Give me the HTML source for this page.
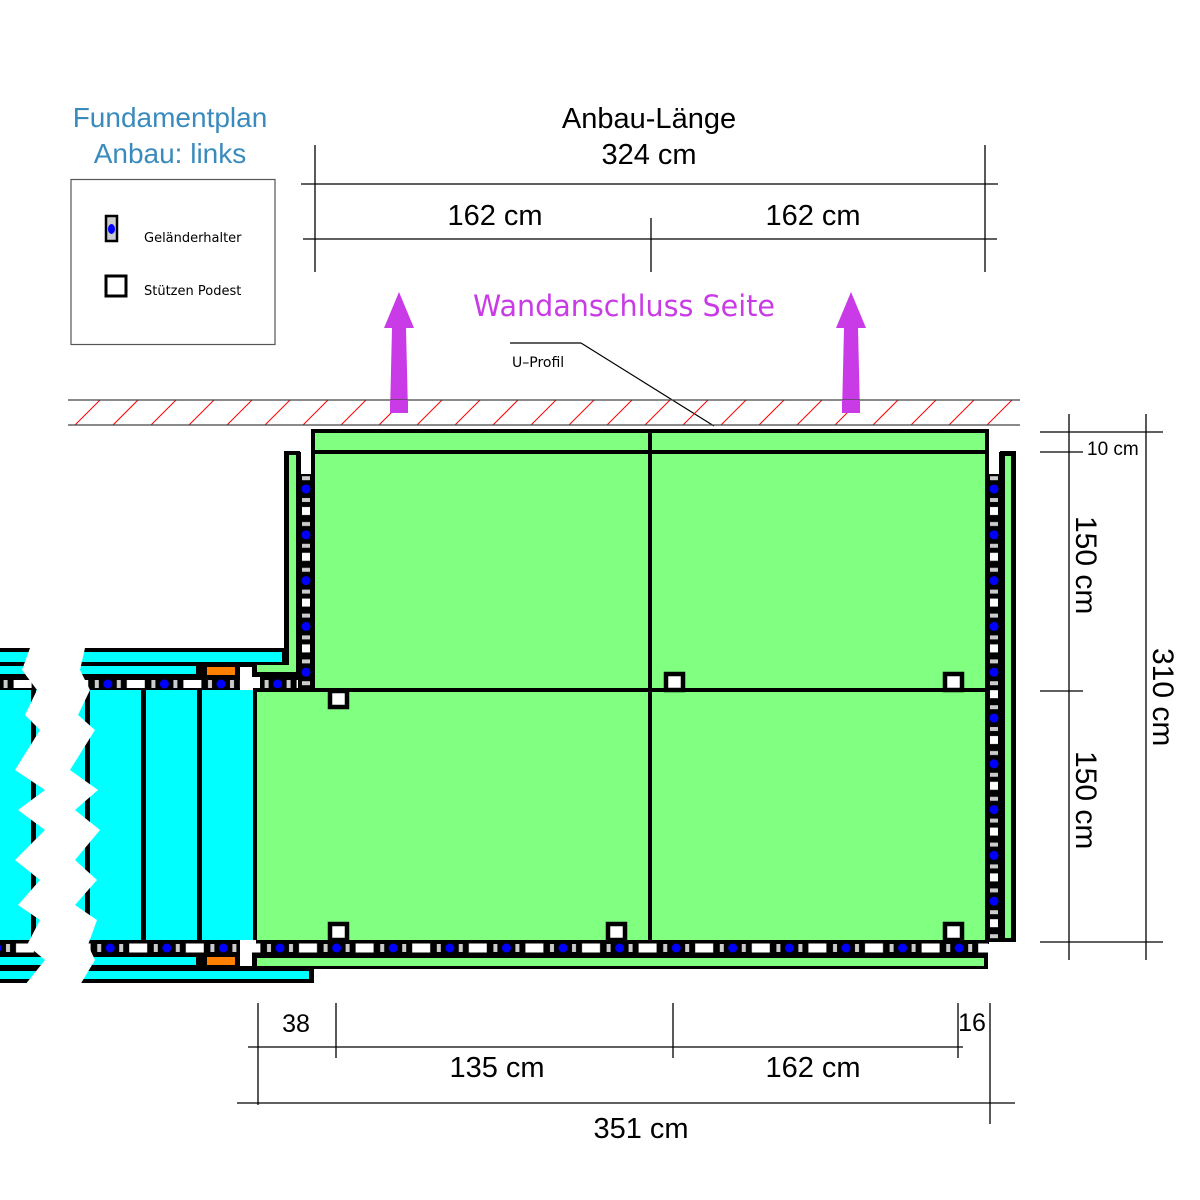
<!DOCTYPE html>
<html><head><meta charset="utf-8"><style>
html,body{margin:0;padding:0;background:#fff;}
svg{display:block;}
.d{font-family:"Liberation Sans Narrow","Liberation Sans",sans-serif;fill:#000;}
</style></head><body>
<svg width="1200" height="1200" viewBox="0 0 1200 1200" xmlns="http://www.w3.org/2000/svg">
<defs>
<pattern id="hr" x="280" y="940" width="56.6" height="16" patternUnits="userSpaceOnUse">
  <rect width="56.6" height="16" fill="#000"/>
  <circle cx="0" cy="8" r="4.5" fill="#00f"/><circle cx="56.6" cy="8" r="4.5" fill="#00f"/>
  <rect x="9" y="4" width="4" height="8" fill="#ccc"/>
  <rect x="43.6" y="4" width="4" height="8" fill="#ccc"/>
  <rect x="19" y="3.5" width="18" height="9" fill="#fff"/>
</pattern>
<pattern id="hr2" x="221" y="677" width="56.6" height="14" patternUnits="userSpaceOnUse">
  <rect width="56.6" height="14" fill="#000"/>
  <circle cx="0" cy="7" r="4.5" fill="#00f"/><circle cx="56.6" cy="7" r="4.5" fill="#00f"/>
  <rect x="9" y="3" width="4" height="8" fill="#ccc"/>
  <rect x="43.6" y="3" width="4" height="8" fill="#ccc"/>
  <rect x="19" y="3" width="18" height="8" fill="#fff"/>
</pattern>
<pattern id="vr" x="298" y="489" width="16" height="45.8" patternUnits="userSpaceOnUse">
  <rect width="16" height="45.8" fill="#000"/>
  <circle cx="8" cy="0" r="4.5" fill="#00f"/><circle cx="8" cy="45.8" r="4.5" fill="#00f"/>
  <rect x="4" y="9" width="8" height="4" fill="#ccc"/>
  <rect x="4" y="33" width="8" height="4" fill="#ccc"/>
  <rect x="4" y="18" width="8" height="8" fill="#fff"/>
</pattern>
<pattern id="vr2" x="986" y="489" width="16" height="45.8" patternUnits="userSpaceOnUse">
  <rect width="16" height="45.8" fill="#000"/>
  <circle cx="8" cy="0" r="4.5" fill="#00f"/><circle cx="8" cy="45.8" r="4.5" fill="#00f"/>
  <rect x="4" y="9" width="8" height="4" fill="#ccc"/>
  <rect x="4" y="33" width="8" height="4" fill="#ccc"/>
  <rect x="4" y="18" width="8" height="8" fill="#fff"/>
</pattern>
</defs>

<text x="170" y="127" text-anchor="middle" font-family="Liberation Sans, sans-serif" font-size="28" fill="#3a8bbd">Fundamentplan</text>
<text x="170" y="163" text-anchor="middle" font-family="Liberation Sans, sans-serif" font-size="28" fill="#3a8bbd">Anbau: links</text>

<rect x="71" y="179.5" width="204" height="165" fill="#fff" stroke="#555" stroke-width="1.2"/>
<rect x="106" y="216" width="11" height="25" fill="#ccc" stroke="#000" stroke-width="2.5"/>
<ellipse cx="111.5" cy="229" rx="3.5" ry="5" fill="#00f"/>
<text x="144" y="242" font-family="DejaVu Sans, sans-serif" font-size="13">Geländerhalter</text>
<rect x="106" y="276" width="20" height="20" fill="#fff" stroke="#000" stroke-width="3"/>
<text x="144" y="295" font-family="DejaVu Sans, sans-serif" font-size="13">Stützen Podest</text>

<g stroke="#000" stroke-width="1.3">
<line x1="315" y1="145" x2="315" y2="272"/>
<line x1="985" y1="145" x2="985" y2="272"/>
<line x1="651" y1="218" x2="651" y2="272"/>
<line x1="301" y1="184" x2="998" y2="184"/>
<line x1="303" y1="239" x2="997" y2="239"/>
</g>
<text class="d" x="649" y="128" text-anchor="middle" font-size="29">Anbau-Länge</text>
<text class="d" x="649" y="164" text-anchor="middle" font-size="29">324 cm</text>
<text class="d" x="495" y="225" text-anchor="middle" font-size="29">162 cm</text>
<text class="d" x="813" y="225" text-anchor="middle" font-size="29">162 cm</text>

<text x="624" y="316" text-anchor="middle" font-family="DejaVu Sans, sans-serif" font-size="29" fill="#c83be6" textLength="302" lengthAdjust="spacingAndGlyphs">Wandanschluss Seite</text>

<polygon points="390,413 408,413 406,328 414,328 399,292 384,328 392,328" fill="#c83be6"/>
<polygon points="842,413 860,413 858,328 866,328 851,292 836,328 844,328" fill="#c83be6"/>

<line x1="510" y1="343" x2="581" y2="343" stroke="#000" stroke-width="1.2"/>
<line x1="581" y1="343" x2="714" y2="426" stroke="#000" stroke-width="1.2"/>
<text x="512" y="367" font-family="DejaVu Sans, sans-serif" font-size="14">U–Profil</text>

<g stroke="#f00" stroke-width="1">
<line x1="75" y1="425" x2="100" y2="400"/><line x1="113" y1="425" x2="138" y2="400"/><line x1="151" y1="425" x2="176" y2="400"/><line x1="189" y1="425" x2="214" y2="400"/><line x1="227" y1="425" x2="252" y2="400"/><line x1="265" y1="425" x2="290" y2="400"/><line x1="303" y1="425" x2="328" y2="400"/><line x1="341" y1="425" x2="366" y2="400"/><line x1="379" y1="425" x2="404" y2="400"/><line x1="417" y1="425" x2="442" y2="400"/><line x1="455" y1="425" x2="480" y2="400"/><line x1="493" y1="425" x2="518" y2="400"/><line x1="531" y1="425" x2="556" y2="400"/><line x1="569" y1="425" x2="594" y2="400"/><line x1="607" y1="425" x2="632" y2="400"/><line x1="645" y1="425" x2="670" y2="400"/><line x1="683" y1="425" x2="708" y2="400"/><line x1="721" y1="425" x2="746" y2="400"/><line x1="759" y1="425" x2="784" y2="400"/><line x1="797" y1="425" x2="822" y2="400"/><line x1="835" y1="425" x2="860" y2="400"/><line x1="873" y1="425" x2="898" y2="400"/><line x1="911" y1="425" x2="936" y2="400"/><line x1="949" y1="425" x2="974" y2="400"/><line x1="987" y1="425" x2="1012" y2="400"/>
</g>
<line x1="68" y1="400" x2="1020" y2="400" stroke="#444" stroke-width="1.2"/>
<line x1="68" y1="425" x2="1020" y2="425" stroke="#444" stroke-width="1.2"/>
<polygon points="390,400 408,400 408,413 390,413" fill="#c83be6"/>
<polygon points="842,400 860,400 860,413 842,413" fill="#c83be6"/>

<rect x="0" y="648" width="300" height="29" fill="#000"/>
<rect x="284" y="451" width="16" height="226" fill="#000"/>
<rect x="289" y="455" width="7" height="213" fill="#80ff80"/>
<rect x="257" y="665" width="39" height="7" fill="#80ff80"/>
<rect x="0" y="652" width="282" height="10" fill="#0ff"/>
<rect x="0" y="666" width="196" height="8" fill="#0ff"/>
<rect x="207" y="667" width="28" height="8" fill="#ff8000"/>
<polygon points="240,667 252,667 252,677 260,677 260,690 240,690" fill="#fff"/>
<rect x="0" y="677" width="240" height="14" fill="url(#hr2)"/>
<rect x="260" y="677" width="40" height="14" fill="url(#hr2)"/>

<rect x="298" y="452" width="16" height="238" fill="url(#vr)"/>
<rect x="298" y="452" width="16" height="22" fill="#fff"/>
<rect x="298" y="452" width="3" height="238" fill="#000"/><rect x="311" y="452" width="3" height="238" fill="#000"/>
<rect x="986" y="452" width="16" height="490" fill="url(#vr2)"/>
<rect x="986" y="452" width="16" height="22" fill="#fff"/>
<rect x="986" y="452" width="3" height="490" fill="#000"/><rect x="999" y="452" width="3" height="490" fill="#000"/>
<rect x="1000" y="451" width="16" height="491" fill="#000"/>
<rect x="1005" y="456" width="6" height="482" fill="#80ff80"/>

<rect x="0" y="690" width="257" height="250" fill="#0ff"/>
<g fill="#000"><rect x="31" y="690" width="5" height="250"/><rect x="85" y="690" width="5" height="250"/><rect x="141" y="690" width="5" height="250"/><rect x="197" y="690" width="5" height="250"/></g>

<rect x="313" y="431" width="674" height="21" fill="#80ff80" stroke="#000" stroke-width="4"/>
<rect x="313" y="452" width="674" height="238" fill="#80ff80" stroke="#000" stroke-width="4"/>
<rect x="255" y="690" width="732" height="252" fill="#80ff80" stroke="#000" stroke-width="4"/>
<line x1="650" y1="431" x2="650" y2="942" stroke="#000" stroke-width="4"/>
<line x1="255" y1="690" x2="987" y2="690" stroke="#000" stroke-width="4"/>

<g fill="#fff" stroke="#000" stroke-width="4.5">
<rect x="330" y="691" width="17" height="16"/>
<rect x="666" y="674" width="17" height="16"/>
<rect x="945" y="674" width="17" height="16"/>
<rect x="330" y="924" width="17" height="16"/>
<rect x="608" y="924" width="17" height="16"/>
<rect x="945" y="924" width="17" height="16"/>
</g>

<rect x="0" y="940" width="988" height="16" fill="url(#hr)"/>
<rect x="0" y="955" width="988" height="14" fill="#000"/>
<rect x="0" y="968" width="314" height="15" fill="#000"/>
<rect x="257" y="958" width="727" height="8" fill="#80ff80"/>
<rect x="0" y="957" width="196" height="8" fill="#0ff"/>
<rect x="207" y="957" width="28" height="8" fill="#ff8000"/>
<polygon points="240,940 256,940 256,948 252,948 252,966 240,966" fill="#fff"/>
<rect x="0" y="971" width="309" height="8" fill="#0ff"/>

<polygon points="30,648 22,670 37,690 25,715 40,730 15,770 45,790 18,810 45,830 15,860 40,880 18,905 40,920 27,945 45,960 25,985 80,985 95,960 88,945 97,920 75,905 97,880 75,860 100,830 75,810 98,790 70,770 95,730 78,715 90,690 80,670 85,648" fill="#fff"/>

<g stroke="#000" stroke-width="1.3">
<line x1="1069" y1="414" x2="1069" y2="960"/>
<line x1="1146" y1="414" x2="1146" y2="960"/>
<line x1="1040" y1="432" x2="1163" y2="432"/>
<line x1="1040" y1="452" x2="1083" y2="452"/>
<line x1="1040" y1="691" x2="1083" y2="691"/>
<line x1="1040" y1="942" x2="1163" y2="942"/>
</g>
<text class="d" x="1087" y="455" font-size="19">10 cm</text>
<text class="d" font-size="30" transform="translate(1076,516) rotate(90)">150 cm</text>
<text class="d" font-size="30" transform="translate(1076,751) rotate(90)">150 cm</text>
<text class="d" font-size="30" transform="translate(1153,648) rotate(90)">310 cm</text>

<g stroke="#000" stroke-width="1.3">
<line x1="258" y1="1003" x2="258" y2="1105"/>
<line x1="336" y1="1003" x2="336" y2="1058"/>
<line x1="673" y1="1003" x2="673" y2="1058"/>
<line x1="958" y1="1003" x2="958" y2="1058"/>
<line x1="990" y1="1003" x2="990" y2="1124"/>
<line x1="248" y1="1047" x2="963" y2="1047"/>
<line x1="237" y1="1103" x2="1015" y2="1103"/>
</g>
<text class="d" x="296" y="1032" text-anchor="middle" font-size="25">38</text>
<text class="d" x="972" y="1031" text-anchor="middle" font-size="25">16</text>
<text class="d" x="497" y="1077" text-anchor="middle" font-size="29">135 cm</text>
<text class="d" x="813" y="1077" text-anchor="middle" font-size="29">162 cm</text>
<text class="d" x="641" y="1138" text-anchor="middle" font-size="29">351 cm</text>
</svg>
</body></html>
